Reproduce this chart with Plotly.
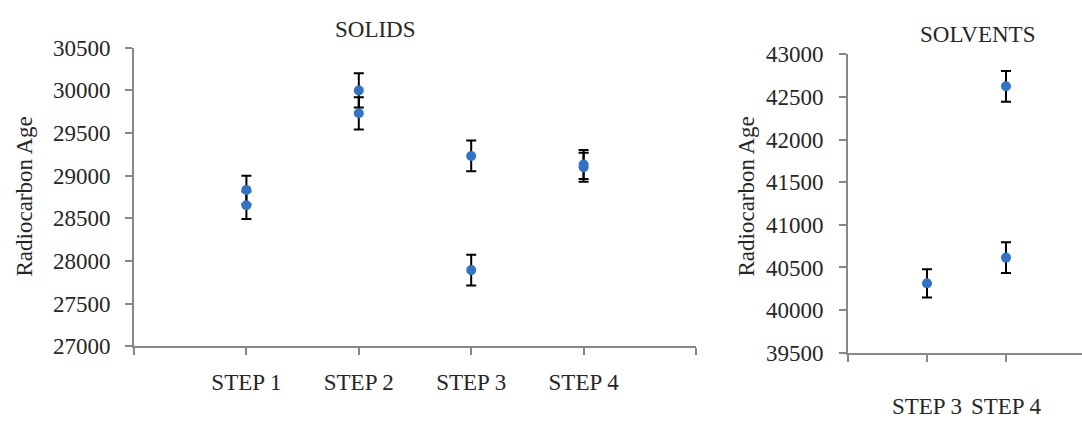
import plotly.graph_objects as go

# ---- data ----
solid_categories = ["STEP 1", "STEP 2", "STEP 3", "STEP 4"]
solid_point_steps = ["STEP 1", "STEP 1", "STEP 2", "STEP 2", "STEP 3", "STEP 3", "STEP 4", "STEP 4"]
solid_ages = [28833, 28653, 30000, 29731, 29231, 27892, 29131, 29098]
solid_errors = [167, 162, 200, 190, 180, 180, 170, 170]

solvent_categories = ["STEP 3", "STEP 4"]
solvent_point_steps = ["STEP 3", "STEP 4", "STEP 4"]
solvent_ages = [40314, 42625, 40616]
solvent_errors = [166, 181, 180]

solid_y_ticks = [27000, 27500, 28000, 28500, 29000, 29500, 30000, 30500]
solvent_y_ticks = [39500, 40000, 40500, 41000, 41500, 42000, 42500, 43000]

W, H = 1082, 426
FONT = "'Liberation Serif', 'Times New Roman', 'DejaVu Serif', serif"
FS = 23
TXT = "#262626"
AX = "#888888"
MARK = "#3472C4"

fig = go.Figure()

sx = [solid_categories.index(s) + 1 for s in solid_point_steps]
fig.add_trace(go.Scatter(
    x=sx, y=solid_ages, mode="markers",
    marker=dict(color=MARK, size=10),
    error_y=dict(type="data", array=solid_errors, color="black", thickness=2, width=5),
    xaxis="x", yaxis="y", showlegend=False, hoverinfo="y"))

vx = [solvent_categories.index(s) + 1 for s in solvent_point_steps]
fig.add_trace(go.Scatter(
    x=vx, y=solvent_ages, mode="markers",
    marker=dict(color=MARK, size=10),
    error_y=dict(type="data", array=solvent_errors, color="black", thickness=2, width=5),
    xaxis="x2", yaxis="y2", showlegend=False, hoverinfo="y"))

def px(x):
    return x / W

def py(y):
    return 1 - y / H

axis_common = dict(showline=True, linecolor=AX, linewidth=2, ticks="outside",
                   tickcolor=AX, tickwidth=2, ticklen=7, showgrid=False, zeroline=False,
                   tickfont=dict(family=FONT, size=FS, color=TXT))

n1 = len(solid_categories)
fig.update_layout(
    xaxis=dict(domain=[px(134), px(696)], range=[0, n1 + 1], anchor="y",
               tickmode="array", tickvals=list(range(0, n1 + 2)),
               ticktext=[""] + solid_categories + [""],
               ticklabelstandoff=7, **axis_common),
    yaxis=dict(domain=[py(355), py(38)], range=[solid_y_ticks[0], solid_y_ticks[-1]],
               anchor="x", tickmode="array", tickvals=solid_y_ticks,
               ticktext=[str(v) for v in solid_y_ticks],
               ticklabelstandoff=10, **axis_common),
)

n2 = len(solvent_categories)
step2 = (1085 - 848) / (n2 + 1)
right_max = (W - 848) / step2
fig.update_layout(
    xaxis2=dict(domain=[px(848), 1.0], range=[0, right_max], anchor="y2",
                tickmode="array", tickvals=list(range(0, n2 + 2)),
                ticktext=[""] + solvent_categories + [""],
                ticklabelstandoff=25, **axis_common),
    yaxis2=dict(domain=[py(362), py(45)], range=[solvent_y_ticks[0], solvent_y_ticks[-1]],
                anchor="x2", tickmode="array", tickvals=solvent_y_ticks,
                ticktext=[str(v) for v in solvent_y_ticks],
                ticklabelstandoff=11, **axis_common),
)

ann_font = dict(family=FONT, size=FS, color=TXT)
fig.update_layout(
    annotations=[
        dict(text="SOLIDS", x=px(375), y=py(19), xref="paper", yref="paper",
             showarrow=False, font=ann_font, xanchor="center", yanchor="middle"),
        dict(text="SOLVENTS", x=px(977), y=py(24), xref="paper", yref="paper",
             showarrow=False, font=ann_font, xanchor="center", yanchor="middle"),
        dict(text="Radiocarbon Age", x=px(24), y=py(196), xref="paper", yref="paper",
             showarrow=False, font=ann_font, textangle=-90, xanchor="center", yanchor="middle"),
        dict(text="Radiocarbon Age", x=px(746), y=py(196), xref="paper", yref="paper",
             showarrow=False, font=ann_font, textangle=-90, xanchor="center", yanchor="middle"),
    ],
    width=W, height=H,
    margin=dict(l=0, r=0, t=0, b=0),
    paper_bgcolor="white", plot_bgcolor="white",
    font=dict(family=FONT, color=TXT),
)

fig.write_html("out.html")
